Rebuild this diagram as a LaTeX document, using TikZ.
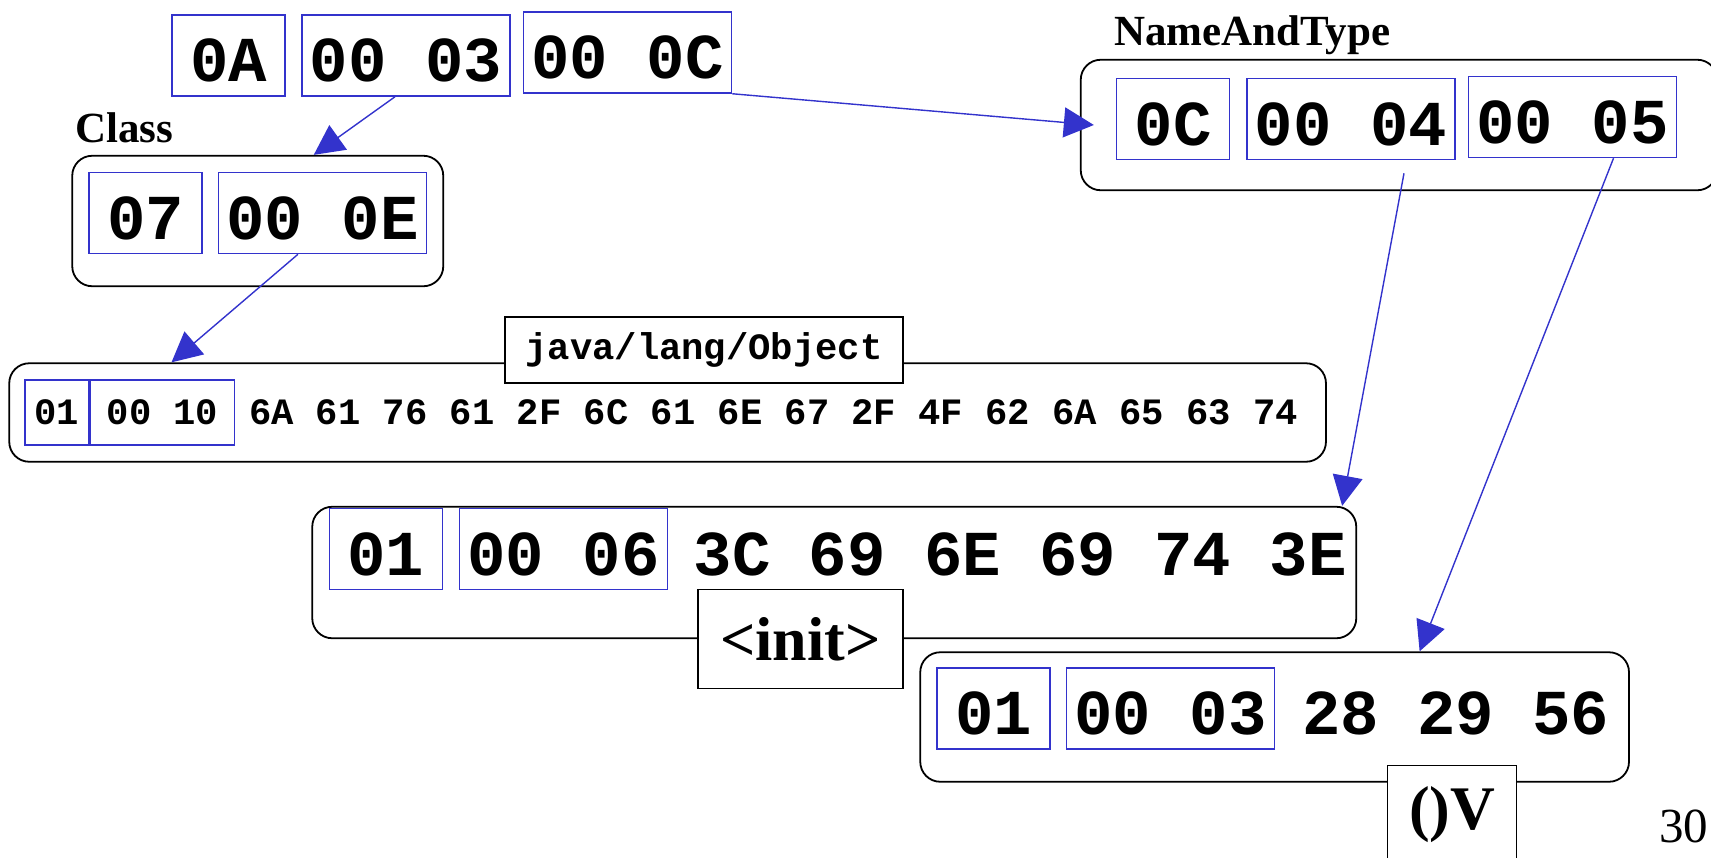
\documentclass[tikz,border=0pt]{standalone}
\usepackage{fontspec}
\usepackage{tikz}
\usetikzlibrary{positioning,arrows.meta,calc,fit}
\newfontfamily\monofnt{Liberation Mono}
\newfontfamily\seriffnt{Liberation Serif}
\definecolor{jblue}{RGB}{51,51,204}
\newcommand{\hexbig}{\monofnt\bfseries\fontsize{64pt}{64pt}\selectfont}
\newcommand{\hexsmall}{\monofnt\bfseries\fontsize{37.2pt}{37.2pt}\selectfont}
\newcommand{\headfnt}{\seriffnt\bfseries\fontsize{43pt}{43pt}\selectfont}
\newcommand{\tagfnt}{\seriffnt\bfseries\fontsize{62pt}{62pt}\selectfont}
\tikzset{
	byte/.style = { draw=jblue, line width=1.5pt, inner sep=0pt, minimum height=81pt, font=\hexbig, text height=52pt, text depth=0pt },
	one/.style = { byte, minimum width=113pt },
	two/.style = { byte, minimum width=208pt },
	rest/.style = { byte, draw=none },
	sbyte/.style = { byte, minimum height=65pt, font=\hexsmall, text height=24pt },
	frame/.style = { draw, line width=1.8pt, rounded corners=20pt, inner sep=0pt },
	tag/.style = { draw, line width=1.5pt, fill=white, inner sep=0pt },
	head/.style = { font=\headfnt, inner sep=0pt, anchor=base west },
	ref/.style = { draw=jblue, line width=1.4pt, -{Triangle[length=30pt,width=30pt]} },
}
\begin{document}
\begin{tikzpicture}[x=1pt,y=1pt,node distance=15pt]
\useasboundingbox (0,0) rectangle (1711,-857);

% Methodref entry
\node (b0A)   [one] at (228.5,-55.5) {0A};
\node (b0003) [two,right=15.5pt of b0A] {00 03};
\node (b000C) [two,right=12pt of b0003,yshift=3pt] {00 0C};

% Class
\node (c07)   [one] at (145.5,-213) {07};
\node (c000E) [two,right=15pt of c07] {00 0E};
\coordinate (clsb) at ($(c07.south)+(0,-16)$);
\node (cls)   [frame,inner sep=16pt,fit=(c07)(c000E)(clsb)] {};
\node (hcls)  [head] at ($(cls.north west)+(3.5,12)$) {Class};

% NameAndType
\node (n0C)   [one] at (1173,-119) {0C};
\node (n0004) [two,right=16pt of n0C] {00 04};
\node (n0005) [two,right=12pt of n0004,yshift=2pt] {00 05};
\coordinate (natnw) at ($(n0C.north west)+(-35,18)$);
\coordinate (natse) at ($(n0005.south east)+(40,-32)$);
\node (nat)   [frame,fit=(natnw)(natse)] {};
\node (hnat)  [head] at ($(nat.north west)+(34,13)$) {NameAndType};

% Utf8 java/lang/Object
\node (o01)   [sbyte,minimum width=64pt] at (57,-412.5) {01};
\node (o0010) [sbyte,minimum width=144pt,right=0pt of o01] {00 10};
\node (orest) [sbyte,draw=none,right=13pt of o0010] {6A 61 76 61 2F 6C 61 6E 67 2F 4F 62 6A 65 63 74};
\coordinate (objnw) at ($(o01.north west)+(-15,16)$);
\coordinate (objse) at ($(orest.east |- o01.south)+(27,-16)$);
\node (obj)   [frame,fit=(objnw)(objse)] {};
\node (jlo)   [tag,font=\hexsmall,minimum width=398pt,minimum height=66pt] at (704,-350) {java/lang/Object};

% Utf8 <init>
\node (i01)   [one] at (386,-549) {01};
\node (i0006) [two,right=15.5pt of i01] {00 06};
\node (irest) [rest,right=24.6pt of i0006] {3C 69 6E 69 74 3E};
\coordinate (initnw) at ($(i01.north west)+(-16.5,1)$);
\coordinate (initse) at ($(irest.east |- i01.south)+(9,-48)$);
\node (init)  [frame,fit=(initnw)(initse)] {};
\node (tinit) [tag,font=\tagfnt,anchor=east,minimum width=205pt,minimum height=99pt] at (jlo.east |- init.south) {<init>};

% Utf8 ()V
\node (v01)   [one] at (993.5,-708.5) {01};
\node (v0003) [two,right=15pt of v01] {00 03};
\node (vrest) [rest,right=26pt of v0003] {28 29 56};
\coordinate (signw) at ($(v01.north west)+(-16,15)$);
\coordinate (sigse) at ($(vrest.east |- v01.south)+(19,-32)$);
\node (sig)   [frame,fit=(signw)(sigse)] {};
\node (tsig)  [tag,font=\tagfnt,anchor=north,minimum width=129pt,minimum height=99pt] at ($(sig.south)+(177.5,18)$) {()V};

\node (pgno)  [font=\seriffnt\fontsize{49pt}{49pt}\selectfont,inner sep=0pt,anchor=base west] at (1659,-842) {30};

% references
\draw[ref] ([xshift=-11pt]b0003.south) -- ([xshift=56pt]cls.north);
\draw[ref] (b000C.south east) -- ([xshift=14pt]nat.west);
\draw[ref] ([xshift=-24.5pt]c000E.south) -- ($(o0010.north |- obj.north)+(9,0)$);
\draw[ref] ($(n0004.south)+(53,-13)$) -- ([xshift=-15pt]init.north east);
\draw[ref] ([xshift=41pt]n0005.south) -- ([xshift=145pt]sig.north);

\end{tikzpicture}
\end{document}
